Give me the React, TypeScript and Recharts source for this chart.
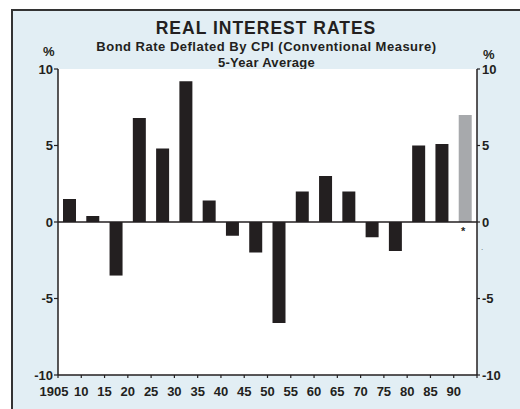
import React, { useLayoutEffect } from 'react';
import { ComposedChart, Bar, Line, XAxis, YAxis, CartesianGrid, ReferenceLine, Cell } from 'recharts';

const periodStarts = [1905, 1910, 1915, 1920, 1925, 1930, 1935, 1940, 1945, 1950, 1955, 1960, 1965, 1970, 1975, 1980, 1985, 1990];
const realRates = [1.5, 0.4, -3.5, 6.8, 4.8, 9.2, 1.4, -0.9, -2.0, -6.6, 2.0, 3.0, 2.0, -1.0, -1.9, 5.0, 5.1, 7.0];
const estimated = [false, false, false, false, false, false, false, false, false, false, false, false, false, false, false, false, false, true];
const xTicks = [1905, 1910, 1915, 1920, 1925, 1930, 1935, 1940, 1945, 1950, 1955, 1960, 1965, 1970, 1975, 1980, 1985, 1990, 1995];
const yTicks = [-10, -5, 0, 5, 10];

const data = periodStarts.map((s, i) => ({ mid: s + 2.5, value: realRates[i], est: estimated[i] }));

const FONT = "Arial, 'Liberation Sans', Helvetica, sans-serif";
const INK = '#231f20';

const xLabel = (v: number) => (v === 1905 ? '1905' : v === 1995 ? '' : String(v).slice(2));

const XTick = (props: any) => {
  const { x, y, payload } = props;
  const v = payload.value as number;
  return (
    <text x={x + (v === 1905 ? -4 : 0)} y={y} dy="0.71em" textAnchor="middle" fontFamily={FONT} fontWeight="bold" fontSize={13} fill={INK}>
      {xLabel(v)}
    </text>
  );
};

export default function App() {
  useLayoutEffect(() => {
    document.body.style.margin = '0';
    document.body.style.overflow = 'hidden';
    document.documentElement.style.overflow = 'hidden';
  }, []);
  return (
    <div style={{ position: 'fixed', left: 0, top: 0, width: 520, height: 409, background: '#fff', overflow: 'hidden' }}>
      <div style={{ position: 'absolute', left: 11, top: 9, width: 700, height: 600, background: '#e2eef4', borderLeft: '2px solid #333', borderTop: '2px solid #333', boxSizing: 'border-box' }} />
      <div style={{ position: 'absolute', left: 0, top: 18, width: 532, textAlign: 'center', fontFamily: FONT, fontWeight: 'bold', fontSize: 17.5, letterSpacing: 1, color: INK, lineHeight: '20px' }}>
        REAL INTEREST RATES
      </div>
      <div style={{ position: 'absolute', left: 0, top: 39, width: 533, textAlign: 'center', fontFamily: FONT, fontWeight: 'bold', fontSize: 13, letterSpacing: 0.5, color: INK, lineHeight: '15px' }}>
        Bond Rate Deflated By CPI (Conventional Measure)
      </div>
      <div style={{ position: 'absolute', left: 0, top: 55, width: 533, textAlign: 'center', fontFamily: FONT, fontWeight: 'bold', fontSize: 13, letterSpacing: 0.3, color: INK, lineHeight: '15px' }}>
        5-Year Average
      </div>
      <div style={{ position: 'absolute', left: 43, top: 44, fontFamily: FONT, fontWeight: 'bold', fontSize: 13, color: INK, lineHeight: '15px' }}>%</div>
      <div style={{ position: 'absolute', left: 483, top: 47, fontFamily: FONT, fontWeight: 'bold', fontSize: 13, color: INK, lineHeight: '15px' }}>%</div>
      <div style={{ position: 'absolute', left: 0, top: 0 }}>
        <ComposedChart width={520} height={409} data={data} margin={{ top: 69, right: 3, bottom: 4, left: 18 }}>
          <CartesianGrid yAxisId="left" fill="#ffffff" horizontal={false} vertical={false} stroke="none" />
          <XAxis
            dataKey="mid"
            type="number"
            domain={[1905, 1995]}
            ticks={xTicks}
            interval={0}
            tick={<XTick />}
            tickSize={3}
            tickMargin={9}
            height={30}
            axisLine={{ stroke: INK, strokeWidth: 1.5 }}
            tickLine={{ stroke: INK, strokeWidth: 1.2 }}
          />
          <XAxis xAxisId="top" dataKey="mid" orientation="top" type="number" domain={[1905, 1995]} allowDataOverflow tick={false} tickLine={false} height={0} axisLine={{ stroke: INK, strokeWidth: 1.5 }} />
          <YAxis
            yAxisId="left"
            domain={[-10, 10]}
            allowDataOverflow
            ticks={yTicks}
            interval={0}
            width={40}
            tickSize={4}
            tickMargin={1}
            axisLine={{ stroke: INK, strokeWidth: 1.5 }}
            tickLine={{ stroke: INK, strokeWidth: 1.2 }}
            tick={{ fontFamily: FONT, fontWeight: 'bold', fontSize: 13, fill: INK }}
          />
          <YAxis
            yAxisId="right"
            orientation="right"
            domain={[-10, 10]}
            allowDataOverflow
            ticks={yTicks}
            interval={0}
            width={40}
            tickSize={3}
            tickMargin={2}
            axisLine={{ stroke: INK, strokeWidth: 1.5 }}
            tickLine={{ stroke: INK, strokeWidth: 1.2 }}
            tick={{ fontFamily: FONT, fontWeight: 'bold', fontSize: 13, fill: INK }}
          />
          <ReferenceLine yAxisId="left" y={0} stroke={INK} strokeWidth={1.5} />
          <Bar yAxisId="left" dataKey="value" barSize={13} isAnimationActive={false}>
            {data.map((d, i) => (
              <Cell key={i} fill={d.est ? '#a7a9ac' : INK} />
            ))}
          </Bar>
          <Line xAxisId="top" yAxisId="right" dataKey="value" stroke="none" dot={false} activeDot={false} isAnimationActive={false} />
        </ComposedChart>
      </div>
      <div style={{ position: 'absolute', left: 461, top: 225, fontFamily: FONT, fontWeight: 'bold', fontSize: 11, color: INK, lineHeight: '12px' }}>*</div>
      <div style={{ position: 'absolute', left: 481, top: 243, fontFamily: FONT, fontSize: 8, color: '#555', lineHeight: '9px' }}>.</div>
    </div>
  );
}
